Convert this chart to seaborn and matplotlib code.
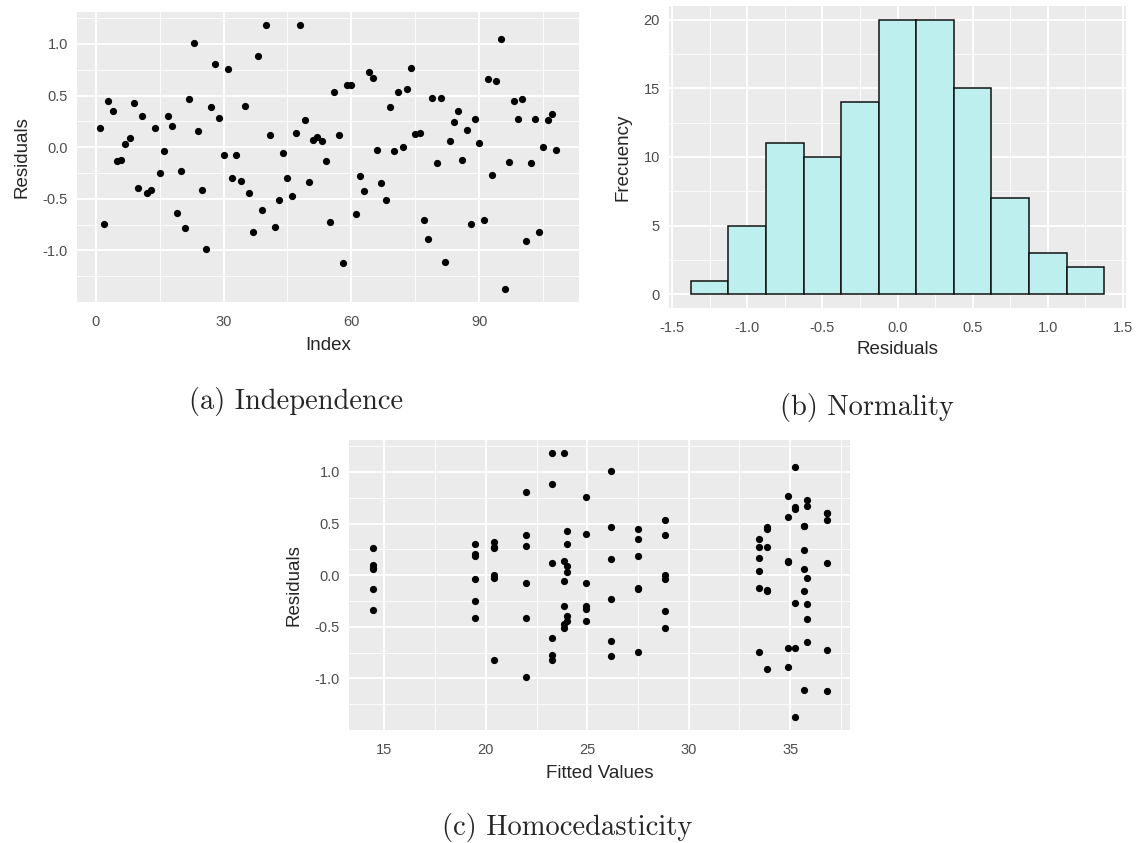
import numpy as np
import pandas as pd
import matplotlib
matplotlib.use("Agg")
import matplotlib.pyplot as plt
import seaborn as sns

# ---------------- data ----------------
residuals = [
    0.19, -0.74, 0.45, 0.35, -0.13, -0.12,
    0.03, 0.09, 0.43, -0.40, 0.30, -0.44,
    -0.41, 0.19, -0.25, -0.04, 0.30, 0.21,
    -0.64, -0.23, -0.78, 0.47, 1.01, 0.16,
    -0.41, -0.99, 0.39, 0.81, 0.28, -0.08,
    0.76, -0.30, -0.08, -0.33, 0.40, -0.44,
    -0.82, 0.88, -0.61, 1.18, 0.12, -0.77,
    -0.51, -0.06, -0.30, -0.47, 0.14, 1.18,
    0.26, -0.34, 0.07, 0.10, 0.06, -0.13,
    -0.72, 0.53, 0.12, -1.12, 0.60, 0.60,
    -0.65, -0.28, -0.42, 0.73, 0.67, -0.03,
    -0.35, -0.51, 0.39, -0.04, 0.53, 0.00,
    0.56, 0.77, 0.13, 0.14, -0.71, -0.89,
    0.48, -0.15, 0.48, -1.11, 0.06, 0.24,
    0.35, -0.12, 0.17, -0.74, 0.27, 0.04,
    -0.71, 0.66, -0.27, 0.64, 1.05, -1.37,
    -0.14, 0.45, 0.27, 0.47, -0.91, -0.15,
    0.27, -0.82, 0.00, 0.26, 0.32, -0.03,
]
fitted = [
    27.48, 27.48, 27.48, 27.48, 27.48, 27.48,
    23.98, 23.98, 23.98, 23.98, 23.98, 23.98,
    19.44, 19.44, 19.44, 19.44, 19.44, 19.44,
    26.19, 26.19, 26.19, 26.19, 26.19, 26.19,
    21.96, 21.96, 21.96, 21.96, 21.96, 21.96,
    24.91, 24.91, 24.91, 24.91, 24.91, 24.91,
    23.24, 23.24, 23.24, 23.24, 23.24, 23.24,
    23.83, 23.83, 23.83, 23.83, 23.83, 23.83,
    14.44, 14.44, 14.44, 14.44, 14.44, 14.44,
    36.80, 36.80, 36.80, 36.80, 36.80, 36.80,
    35.82, 35.82, 35.82, 35.82, 35.82, 35.82,
    28.84, 28.84, 28.84, 28.84, 28.84, 28.84,
    34.87, 34.87, 34.87, 34.87, 34.87, 34.87,
    35.67, 35.67, 35.67, 35.67, 35.67, 35.67,
    33.44, 33.44, 33.44, 33.44, 33.44, 33.44,
    35.25, 35.25, 35.25, 35.25, 35.25, 35.25,
    33.88, 33.88, 33.88, 33.88, 33.88, 33.88,
    20.39, 20.39, 20.39, 20.39, 20.39, 20.39,
]
index = list(range(1, len(residuals) + 1))
hist_edges = [-1.375, -1.125, -0.875, -0.625, -0.375, -0.125,
              0.125, 0.375, 0.625, 0.875, 1.125, 1.375]

a_xticks = [0, 30, 60, 90]
a_xminor = [15, 45, 75, 105]
res_ticks = [-1.0, -0.5, 0.0, 0.5, 1.0]
res_minor = [-1.25, -0.75, -0.25, 0.25, 0.75, 1.25]
b_xticks = [-1.5, -1.0, -0.5, 0.0, 0.5, 1.0, 1.5]
b_xminor = [-1.25, -0.75, -0.25, 0.25, 0.75, 1.25]
b_yticks = [0, 5, 10, 15, 20]
b_yminor = [2.5, 7.5, 12.5, 17.5]
c_xticks = [15, 20, 25, 30, 35]
c_xminor = [17.5, 22.5, 27.5, 32.5, 37.5]

captions = ["(a) Independence", "(b) Normality", "(c) Homocedasticity"]

df = pd.DataFrame({"Index": index, "Residuals": residuals, "Fitted": fitted})

# ---------------- styling ----------------
sns.set_style("white")
plt.rcParams["font.family"] = ["Liberation Sans", "DejaVu Sans"]

W, H = 1137, 843
fig = plt.figure(figsize=(W / 100, H / 100), dpi=100)


def make_ax(left, top, right, bottom):
    return fig.add_axes([left / W, (H - bottom) / H, (right - left) / W, (bottom - top) / H])


def gg_style(ax, xt, xm, yt, ym, xfmt, yfmt):
    ax.set_facecolor("#EBEBEB")
    for s in ax.spines.values():
        s.set_visible(False)
    ax.set_xticks(xt)
    ax.set_xticks(xm, minor=True)
    ax.set_yticks(yt)
    ax.set_yticks(ym, minor=True)
    ax.set_xticklabels([xfmt(v) for v in xt])
    ax.set_yticklabels([yfmt(v) for v in yt])
    ax.grid(True, which="major", color="white", linewidth=1.3)
    ax.grid(True, which="minor", color="white", linewidth=0.6)
    ax.set_axisbelow(True)
    ax.tick_params(which="major", length=4, width=0.9, color="#333333",
                   labelsize=10.5, labelcolor="#4D4D4D")
    ax.tick_params(axis="x", which="major", pad=5)
    ax.tick_params(axis="y", which="major", pad=2.5)
    ax.tick_params(which="minor", length=0)


def fmt1(v):
    return f"{v:.1f}"


def fmt0(v):
    return f"{v:g}"


# ---------------- (a) Independence ----------------
ax_a = make_ax(77, 12, 579, 302)
sns.scatterplot(data=df, x="Index", y="Residuals", ax=ax_a, color="black",
                s=27, linewidth=0, zorder=3)
ax_a.set_xlim(-4.35, 113.35)
ax_a.set_ylim(-1.5, 1.31)
gg_style(ax_a, a_xticks, a_xminor, res_ticks, res_minor, fmt0, fmt1)
ax_a.set_xlabel("Index", fontsize=13.5, labelpad=6)
ax_a.set_ylabel("Residuals", fontsize=13.5, labelpad=9)

# ---------------- (b) Normality ----------------
ax_b = make_ax(669, 6, 1126, 308)
sns.histplot(data=df, x="Residuals", bins=hist_edges, ax=ax_b,
             color="#BDEFEF", alpha=1, edgecolor="#111111", linewidth=1.1, zorder=3)
ax_b.set_xlim(-1.52, 1.52)
ax_b.set_ylim(-1, 21)
gg_style(ax_b, b_xticks, b_xminor, b_yticks, b_yminor, fmt1, fmt0)
ax_b.set_xlabel("Residuals", fontsize=13.5, labelpad=5)
ax_b.set_ylabel("Frecuency", fontsize=13.5, labelpad=9)

# ---------------- (c) Homocedasticity ----------------
ax_c = make_ax(349, 440, 850, 730)
sns.scatterplot(data=df, x="Fitted", y="Residuals", ax=ax_c, color="black",
                s=27, linewidth=0, zorder=3)
ax_c.set_xlim(13.25, 37.95)
ax_c.set_ylim(-1.5, 1.31)
gg_style(ax_c, c_xticks, c_xminor, res_ticks, res_minor, fmt0, fmt1)
ax_c.set_xlabel("Fitted Values", fontsize=13.5, labelpad=6)
ax_c.set_ylabel("Residuals", fontsize=13.5, labelpad=9)

# ---------------- captions ----------------
cap_pos = [(296, 402), (867, 408), (567, 828)]
for txt, (cx, cy) in zip(captions, cap_pos):
    fig.text(cx / W, (H - cy) / H, txt, ha="center", va="center",
             fontsize=20.5, family=["cmr10", "DejaVu Serif"])

fig.savefig("out.png", dpi=100)
